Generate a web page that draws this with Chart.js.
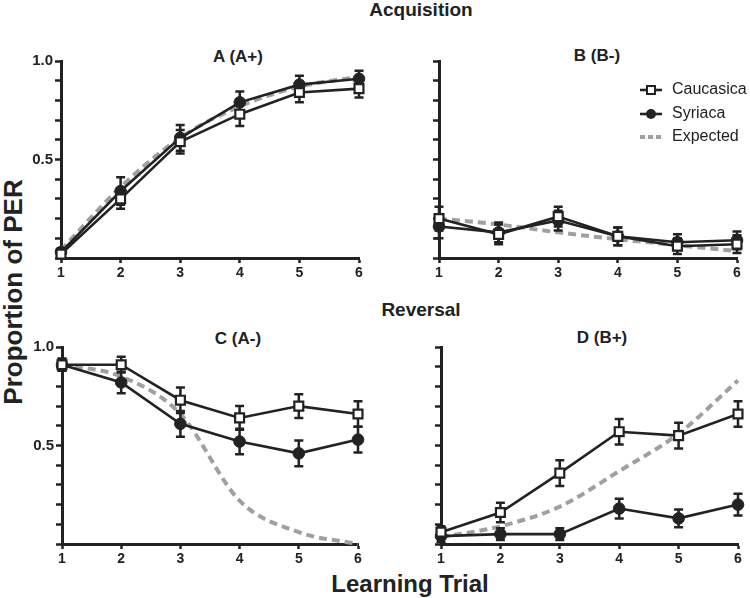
<!DOCTYPE html>
<html>
<head>
<meta charset="utf-8">
<script src="https://cdn.jsdelivr.net/npm/chart.js@4.4.1/dist/chart.umd.min.js"></script>
<style>
  body { margin: 0; background: #fff; width: 750px; height: 598px; position: relative; overflow: hidden;
         font-family: 'Liberation Sans', Arial, sans-serif; color: #222; }
  canvas { position: absolute; }
  .t { position: absolute; font-weight: bold; line-height: 1; white-space: nowrap; transform: translate(-50%, -50%); }
</style>
</head>
<body>
<div class="t" style="left:421px;top:9px;font-size:19px">Acquisition</div>
<div class="t" style="left:421px;top:309px;font-size:19px">Reversal</div>
<div class="t" style="left:238px;top:56px;font-size:17px">A (A+)</div>
<div class="t" style="left:597px;top:55px;font-size:17px">B (B-)</div>
<div class="t" style="left:238px;top:338px;font-size:17px">C (A-)</div>
<div class="t" style="left:602px;top:337px;font-size:17px">D (B+)</div>
<div class="t" style="left:410px;top:584px;font-size:24px">Learning Trial</div>
<div class="t" style="left:13px;top:292px;font-size:26px;transform:translate(-50%,-50%) rotate(-90deg)">Proportion of PER</div>

<canvas id="panelA" width="375" height="240" style="left:0;top:40px"></canvas>
<canvas id="panelB" width="370" height="240" style="left:380px;top:40px"></canvas>
<canvas id="panelC" width="375" height="270" style="left:0;top:300px"></canvas>
<canvas id="panelD" width="370" height="270" style="left:380px;top:300px"></canvas>

<script>
'use strict'

// learning trials (x) and the y values that get a label
let trials = [1, 2, 3, 4, 5, 6];
let labeledTicks = [0.5, 1.0];

// A (A+)
let aCauc = [0.02, 0.30, 0.59, 0.73, 0.84, 0.86];
let aCaucErr = [0.02, 0.05, 0.06, 0.06, 0.05, 0.045];
let aSyr = [0.03, 0.34, 0.61, 0.79, 0.88, 0.91];
let aSyrErr = [0.02, 0.07, 0.065, 0.055, 0.045, 0.04];
let aExp = [0.04, 0.36, 0.61, 0.77, 0.87, 0.92];

// B (B-)
let bCauc = [0.20, 0.12, 0.21, 0.11, 0.06, 0.07];
let bCaucErr = [0.06, 0.05, 0.05, 0.045, 0.04, 0.045];
let bSyr = [0.16, 0.13, 0.19, 0.11, 0.08, 0.09];
let bSyrErr = [0.06, 0.05, 0.05, 0.045, 0.04, 0.045];
let bExp = [0.20, 0.17, 0.13, 0.095, 0.065, 0.035];

// C (A-)
let cCauc = [0.91, 0.91, 0.73, 0.64, 0.70, 0.66];
let cCaucErr = [0.03, 0.04, 0.065, 0.06, 0.06, 0.065];
let cSyr = [0.91, 0.82, 0.61, 0.52, 0.46, 0.53];
let cSyrErr = [0.03, 0.055, 0.065, 0.065, 0.065, 0.065];
let cExp = [0.91, 0.85, 0.66, 0.22, 0.06, 0.0];

// D (B+)
let dCauc = [0.06, 0.16, 0.36, 0.57, 0.55, 0.66];
let dCaucErr = [0.03, 0.05, 0.065, 0.065, 0.065, 0.065];
let dSyr = [0.04, 0.05, 0.05, 0.18, 0.13, 0.20];
let dSyrErr = [0.03, 0.03, 0.03, 0.05, 0.045, 0.055];
let dExp = [0.035, 0.09, 0.19, 0.37, 0.56, 0.83];

const INK = '#222';
const GREY = '#a0a0a0';
const FONT = "'Liberation Sans', Arial, sans-serif";

// error bars go right after the grey curve so black lines + markers sit on top
const errorBars = {
    id: 'errorBars',
    afterDatasetDraw(chart, args) {
        if (args.index !== 2) return;
        let ctx = chart.ctx;
        let x = chart.scales.x, y = chart.scales.y;
        ctx.save();
        ctx.strokeStyle = INK;
        ctx.lineWidth = 2.5;
        chart.data.datasets.forEach(ds => {
            if (!ds.errors) return;
            ds.data.forEach((p, i) => {
                let px = x.getPixelForValue(p.x);
                let top = y.getPixelForValue(p.y + ds.errors[i]);
                let bot = y.getPixelForValue(p.y - ds.errors[i]);
                ctx.beginPath();
                ctx.moveTo(px, top); ctx.lineTo(px, bot);
                ctx.moveTo(px - 4.5, top); ctx.lineTo(px + 4.5, top);
                ctx.moveTo(px - 4.5, bot); ctx.lineTo(px + 4.5, bot);
                ctx.stroke();
            });
        });
        ctx.restore();
    }
};

const legendBox = {
    id: 'legendBox',
    afterDraw(chart) {
        let ctx = chart.ctx;
        let mx = 271, tx = 292;
        let rows = [50, 74, 97];
        ctx.save();
        ctx.font = '16px ' + FONT;
        ctx.fillStyle = INK;
        ctx.textBaseline = 'middle';
        ctx.fillText('Caucasica', tx, rows[0]);
        ctx.fillText('Syriaca', tx, rows[1]);
        ctx.fillText('Expected', tx, rows[2]);

        ctx.strokeStyle = INK;
        ctx.lineWidth = 2.6;
        for (let r of [rows[0], rows[1]]) {
            ctx.beginPath(); ctx.moveTo(mx - 11, r); ctx.lineTo(mx + 11, r); ctx.stroke();
        }
        ctx.lineWidth = 2;
        ctx.fillStyle = '#fff';
        ctx.fillRect(mx - 4, rows[0] - 4, 8, 8);
        ctx.strokeRect(mx - 4, rows[0] - 4, 8, 8);
        ctx.fillStyle = INK;
        ctx.beginPath(); ctx.arc(mx, rows[1], 5, 0, Math.PI * 2); ctx.fill();

        ctx.strokeStyle = GREY;
        ctx.lineWidth = 4;
        ctx.setLineDash([5, 3]);
        ctx.beginPath(); ctx.moveTo(mx - 11, rows[2]); ctx.lineTo(mx + 12, rows[2]); ctx.stroke();
        ctx.restore();
    }
};

function toPoints(vals) {
    return trials.map((t, i) => ({ x: t, y: vals[i] }));
}

function renderPanel(id, cauc, caucErr, syr, syrErr, exp, o) {
    let plugins = [errorBars];
    if (o.legend) plugins.push(legendBox);

    new Chart(document.getElementById(id), {
        type: 'line',
        data: {
            datasets: [{
                label: 'Caucasica',
                data: toPoints(cauc),
                errors: caucErr,
                borderColor: INK,
                borderWidth: 2.6,
                pointStyle: 'rect',
                pointRadius: 6.3,
                pointBorderWidth: 2.2,
                pointBackgroundColor: '#fff',
                pointBorderColor: INK,
                order: 1,
                clip: false
            },
            {
                label: 'Syriaca',
                data: toPoints(syr),
                errors: syrErr,
                borderColor: INK,
                borderWidth: 2.6,
                pointStyle: 'circle',
                pointRadius: 5.8,
                pointBorderWidth: 1,
                pointBackgroundColor: INK,
                pointBorderColor: INK,
                order: 2,
                clip: false
            },
            {
                label: 'Expected',
                data: toPoints(exp),
                borderColor: GREY,
                borderWidth: 4,
                borderDash: [8, 5],
                pointRadius: 0,
                cubicInterpolationMode: 'monotone',
                order: 3,
                clip: false
            }]
        },
        options: {
            responsive: false,
            animation: false,
            events: [],
            layout: { padding: { left: 0, right: o.right, top: o.top, bottom: 0 } },
            scales: {
                x: {
                    type: 'linear',
                    min: 1,
                    max: 6,
                    afterFit: s => { s.height = o.xh; },
                    ticks: { stepSize: 1, color: INK, padding: 2, font: { family: FONT, size: 14, weight: 'bold' } },
                    grid: { drawOnChartArea: false, tickLength: 5, tickWidth: 2.5, tickColor: INK },
                    border: { color: INK, width: 3 }
                },
                y: {
                    min: 0,
                    max: 1,
                    afterFit: s => { s.width = o.yw; },
                    ticks: {
                        stepSize: 0.1,
                        autoSkip: false,
                        color: INK,
                        padding: 2,
                        font: { family: FONT, size: 15, weight: 'bold' },
                        callback: v => {
                            if (!o.yLabels) return '';
                            let hit = labeledTicks.find(t => Math.abs(t - v) < 1e-6);
                            return hit === undefined ? '' : hit.toFixed(1);
                        }
                    },
                    grid: { drawOnChartArea: false, tickLength: 6, tickWidth: 2.5, tickColor: INK },
                    border: { color: INK, width: 3 }
                }
            },
            plugins: {
                legend: { display: false },
                tooltip: { enabled: false }
            }
        },
        plugins: plugins
    });
}

renderPanel('panelA', aCauc, aCaucErr, aSyr, aSyrErr, aExp, { yw: 61, right: 16, top: 21, xh: 22, yLabels: true });
renderPanel('panelB', bCauc, bCaucErr, bSyr, bSyrErr, bExp, { yw: 59, right: 13, top: 21, xh: 22, yLabels: false, legend: true });
renderPanel('panelC', cCauc, cCaucErr, cSyr, cSyrErr, cExp, { yw: 62, right: 17, top: 47, xh: 26, yLabels: true });
renderPanel('panelD', dCauc, dCaucErr, dSyr, dSyrErr, dExp, { yw: 61, right: 12, top: 47, xh: 26, yLabels: false });
</script>
</body>
</html>
